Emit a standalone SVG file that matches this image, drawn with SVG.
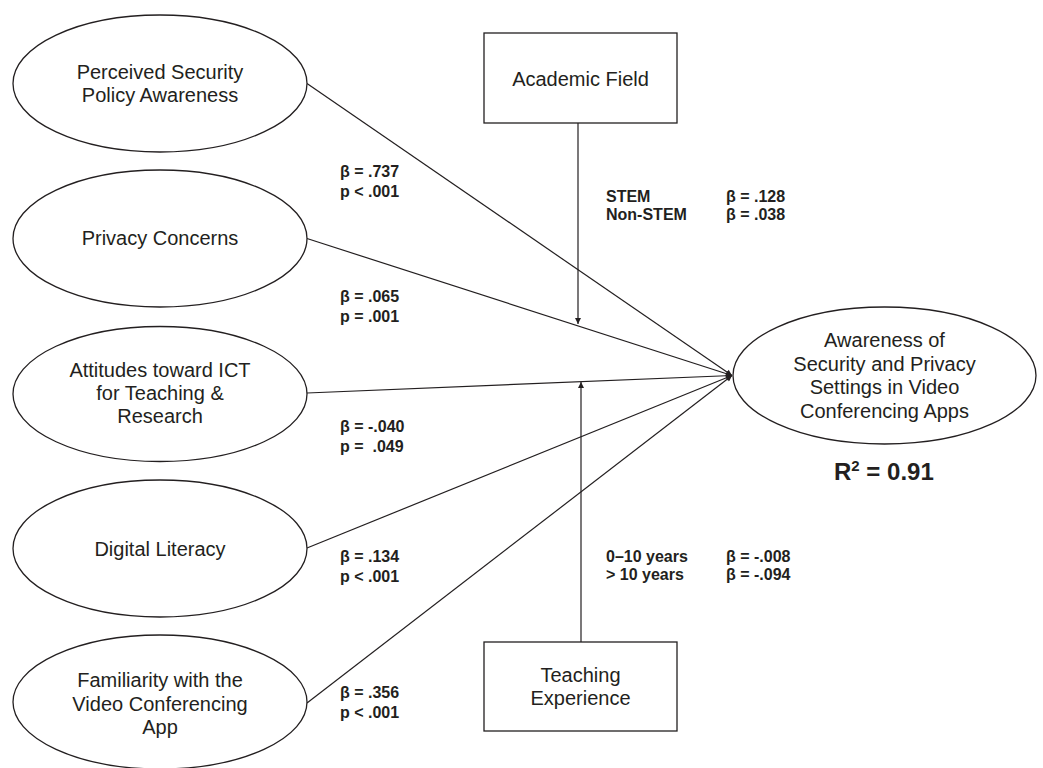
<svg xmlns="http://www.w3.org/2000/svg" width="1043" height="768" viewBox="0 0 1043 768">
<style>
.node { fill: #ffffff; stroke: #231f20; stroke-width: 1.3; }
.lbl { font-family: "Liberation Sans", Arial, sans-serif; font-size: 20px; fill: #231f20; text-anchor: middle; }
.stat { font-family: "Liberation Sans", Arial, sans-serif; font-size: 16px; font-weight: bold; fill: #231f20; }
.edge { stroke: #231f20; stroke-width: 1.2; fill: none; marker-end: url(#arr); }
</style>
<defs>
<marker id="arr" viewBox="0 0 10 10" refX="10" refY="5" markerWidth="9" markerHeight="6" markerUnits="userSpaceOnUse" orient="auto">
<path d="M0,0 L10,5 L0,10 z" fill="#231f20"/>
</marker>
</defs>
<rect width="1043" height="768" fill="#ffffff"/>

<g id="connectors">
<line class="edge" x1="307" y1="83.5" x2="732" y2="375.5"/>
<line class="edge" x1="307" y1="238.5" x2="732" y2="375.5"/>
<line class="edge" x1="307" y1="393" x2="732" y2="375.5"/>
<line class="edge" x1="307" y1="548" x2="732" y2="375.5"/>
<line class="edge" x1="307" y1="703" x2="732" y2="375.5"/>
<line class="edge" x1="578" y1="123" x2="578" y2="324"/>
<line class="edge" x1="581" y1="642" x2="581" y2="382"/>
</g>

<g id="n-psa">
<ellipse class="node" cx="160" cy="83.5" rx="147" ry="68.5"/>
<text class="lbl" x="160" y="79">Perceived Security</text>
<text class="lbl" x="160" y="102">Policy Awareness</text>
</g>

<g id="n-pc">
<ellipse class="node" cx="160" cy="238.5" rx="147" ry="68.5"/>
<text class="lbl" x="160" y="245">Privacy Concerns</text>
</g>

<g id="n-att">
<ellipse class="node" cx="160" cy="394" rx="147" ry="67.5"/>
<text class="lbl" x="160" y="377">Attitudes toward ICT</text>
<text class="lbl" x="160" y="400">for Teaching &amp;</text>
<text class="lbl" x="160" y="423">Research</text>
</g>

<g id="n-dl">
<ellipse class="node" cx="160" cy="548.5" rx="147" ry="68.5"/>
<text class="lbl" x="160" y="556">Digital Literacy</text>
</g>

<g id="n-fam">
<ellipse class="node" cx="160" cy="702" rx="147" ry="67"/>
<text class="lbl" x="160" y="687">Familiarity with the</text>
<text class="lbl" x="160" y="711">Video Conferencing</text>
<text class="lbl" x="160" y="734">App</text>
</g>

<g id="n-out">
<ellipse class="node" cx="884.5" cy="375.5" rx="151.5" ry="68.5"/>
<text class="lbl" x="884.5" y="347">Awareness of</text>
<text class="lbl" x="884.5" y="371">Security and Privacy</text>
<text class="lbl" x="884.5" y="394">Settings in Video</text>
<text class="lbl" x="884.5" y="418">Conferencing Apps</text>
</g>

<g id="n-af">
<rect class="node" x="484" y="33" width="193" height="90"/>
<text class="lbl" x="580.5" y="86">Academic Field</text>
</g>

<g id="n-te">
<rect class="node" x="484" y="642" width="193" height="89"/>
<text class="lbl" x="580.5" y="682">Teaching</text>
<text class="lbl" x="580.5" y="705">Experience</text>
</g>

<g id="labels">
<text class="stat" x="340" y="177">β = .737</text>
<text class="stat" x="340" y="197">p &lt; .001</text>
<text class="stat" x="340" y="302">β = .065</text>
<text class="stat" x="340" y="322">p = .001</text>
<text class="stat" x="340" y="432">β = -.040</text>
<text class="stat" x="340" y="452" xml:space="preserve">p =  .049</text>
<text class="stat" x="340" y="562">β = .134</text>
<text class="stat" x="340" y="582">p &lt; .001</text>
<text class="stat" x="340" y="698">β = .356</text>
<text class="stat" x="340" y="718">p &lt; .001</text>
<text class="stat" x="606" y="202">STEM</text>
<text class="stat" x="726" y="202">β = .128</text>
<text class="stat" x="606" y="220">Non-STEM</text>
<text class="stat" x="726" y="220">β = .038</text>
<text class="stat" x="606" y="562">0–10 years</text>
<text class="stat" x="726" y="562">β = -.008</text>
<text class="stat" x="606" y="580">&gt; 10 years</text>
<text class="stat" x="726" y="580">β = -.094</text>
<text class="stat" x="834" y="480" style="font-size:24px">R<tspan font-size="15" dy="-9">2</tspan><tspan dy="9"> = 0.91</tspan></text>
</g>
</svg>
